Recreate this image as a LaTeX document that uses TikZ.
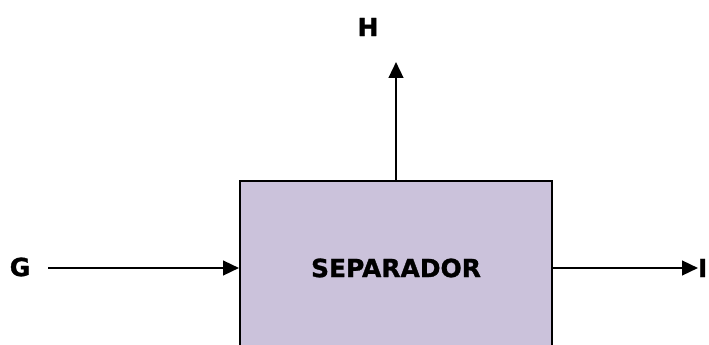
\documentclass[tikz,border=0pt]{standalone}
\usepackage{fontspec}
\setmainfont{DejaVu Sans}
\newfontfamily\tagfont{DejaVu Sans Bold}[FakeBold=1.2]
\usetikzlibrary{arrows.meta}

\definecolor{lila}{RGB}{203,194,219}

\tikzset{
  flow/.style={line width=1.8pt, -{Triangle[length=12pt,width=11pt]}},
  label/.style={font=\fontsize{18.7}{22}\selectfont\tagfont, inner sep=0pt, outer sep=0pt},
  unit/.style={draw, line width=1.5pt, fill=lila, minimum width=234pt, minimum height=130.5pt, inner sep=0pt, font=\fontsize{18.7}{22}\selectfont\tagfont}
}

\begin{document}
\begin{tikzpicture}[x=0.75pt, y=-0.75pt]
\useasboundingbox (0,0) rectangle (709,345);

% separator and stream labels
\node[unit] (sep) at (396,268) {SEPARADOR};
\node[label] (g) at (20,267) {G};
\node[label] (h) at (368,27) {H};
\node[label, anchor=west] (i) at (698,268) {I};

% free ends of the streams
\coordinate (gin) at (48,268);
\coordinate (hout) at (396,62);

\draw[flow] (gin) -- (sep.west);
\draw[flow] (sep.north) -- (hout);
\draw[flow] (sep.east) -- (i.west);
\end{tikzpicture}
\end{document}
